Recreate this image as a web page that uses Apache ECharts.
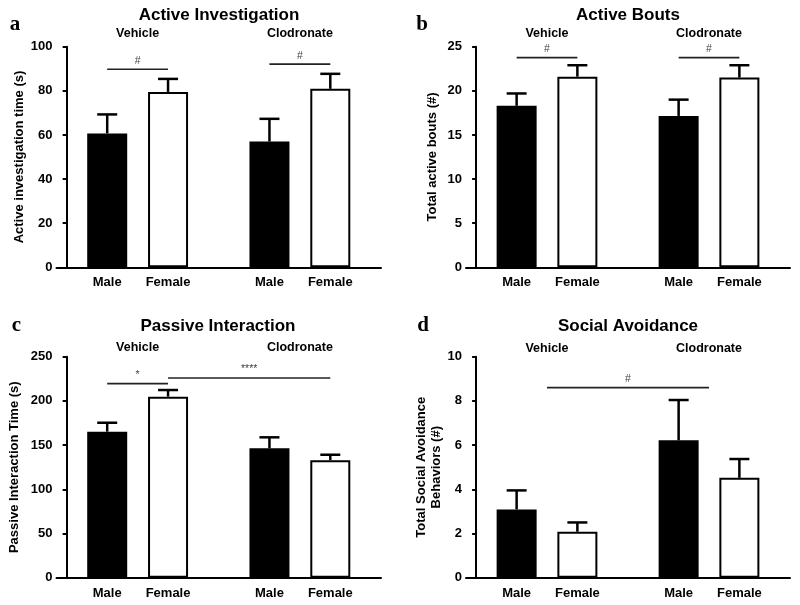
<!DOCTYPE html>
<html><head><meta charset="utf-8">
<script src="https://cdn.jsdelivr.net/npm/echarts@6/dist/echarts.min.js"></script>
<style>html,body{margin:0;padding:0;background:#fff}#c{width:800px;height:605px}</style>
</head><body><div id="c"></div>
<script>
// ---- data ----
const groups = ['Vehicle', 'Clodronate'];
const sexLabels = ['Male', 'Female', 'Male', 'Female'];
const panelTitles = ['Active Investigation', 'Active Bouts', 'Passive Interaction', 'Social Avoidance'];
const panelLetters = ['a', 'b', 'c', 'd'];
const yNames = ['Active investigation time (s)', 'Total active bouts (#)', 'Passive Interaction Time (s)', 'Total Social Avoidance\nBehaviors (#)'];
const yMax = [100, 25, 250, 10];
const yStep = [20, 5, 50, 2];

const meanA = [60.7, 79.5, 57.0, 80.9];
const semA  = [8.6, 5.9, 10.3, 6.8];
const meanB = [18.3, 21.6, 17.15, 21.5];
const semB  = [1.4, 1.3, 1.85, 1.4];
const meanC = [165.2, 204.8, 146.4, 132.8];
const semC  = [10.1, 7.5, 12.4, 6.3];
const meanD = [3.09, 2.08, 6.22, 4.52];
const semD  = [0.86, 0.42, 1.82, 0.85];

const sigA = [{from: 0, to: 1, y: 89.8, label: '#'}, {from: 2, to: 3, y: 92.1, label: '#'}];
const sigB = [{from: 0, to: 1, y: 23.76, label: '#'}, {from: 2, to: 3, y: 23.76, label: '#'}];
const sigC = [{from: 0, to: 1, y: 219.5, label: '*'}, {from: 1, to: 3, y: 225.9, label: '****'}];
const sigD = [{from: 'Vehicle', to: 'Clodronate', y: 8.6, label: '#'}];

// ---- layout ----
const means = [meanA, meanB, meanC, meanD];
const sems = [semA, semB, semC, semD];
const sigs = [sigA, sigB, sigC, sigD];
const SLOTS = 16;
const barSlots = [2, 5, 10, 13];
const groupCenters = [3.5, 11.5];
const grids = [
  {left: 56.5, top: 46.7, width: 324.5, height: 220.6},
  {left: 466, top: 46.7, width: 324, height: 220.6},
  {left: 56.5, top: 356.7, width: 324.5, height: 221},
  {left: 466, top: 356.7, width: 324, height: 221}
];
const nameGaps = [27, 26.3, 34.7, 18.7];
const groupLabelOffset = [13.5, 13.5, 9, 8.5];
const titlePos = [[219, 15], [628, 15], [218, 326], [628, 326.5]];
const letterPos = [[15, 24.5], [422, 24.5], [16.5, 326], [423, 326]];
const FONT = 'Arial, "Liberation Sans", Helvetica, sans-serif';
const SERIF = '"Times New Roman", "Liberation Serif", serif';

function pos(k) { return typeof k === 'number' ? barSlots[k] : groupCenters[groups.indexOf(k)]; }

const catLabels = Array.from({length: SLOTS}, () => '');
barSlots.forEach((s, i) => catLabels[s] = sexLabels[i]);

const option = {
  animation: false,
  backgroundColor: '#fff',
  grid: grids.map(g => Object.assign({containLabel: false}, g)),
  xAxis: [], yAxis: [], series: [], graphic: []
};

for (let p = 0; p < 4; p++) {
  option.xAxis.push({
    type: 'category', gridIndex: p, data: catLabels,
    axisLine: {lineStyle: {color: '#000', width: 2}},
    axisTick: {alignWithLabel: true, length: 4, lineStyle: {color: '#000', width: 2},
      interval: (i) => catLabels[i] !== ''},
    axisLabel: {interval: 0, color: '#000', fontWeight: 'bold', fontSize: 13, fontFamily: FONT, margin: 9},
    splitLine: {show: false}
  });
  option.xAxis.push({
    type: 'value', gridIndex: p, min: -0.5, max: SLOTS - 0.5, show: false
  });
  option.yAxis.push({
    type: 'value', gridIndex: p, min: 0, max: yMax[p], interval: yStep[p],
    name: yNames[p], nameLocation: 'middle', nameGap: nameGaps[p], nameRotate: 90,
    nameTextStyle: {color: '#000', fontWeight: 'bold', fontSize: 13, fontFamily: FONT, lineHeight: 15},
    axisLine: {show: true, lineStyle: {color: '#000', width: 2}},
    axisTick: {show: true, length: 4, lineStyle: {color: '#000', width: 2}},
    axisLabel: {color: '#000', fontWeight: 'bold', fontSize: 13, fontFamily: FONT, margin: 4},
    splitLine: {show: false}
  });

  // bars
  option.series.push({
    type: 'bar', xAxisIndex: 2 * p, yAxisIndex: p, barWidth: 40, z: 2,
    data: means[p].map((v, i) => ({
      value: [barSlots[i], v],
      itemStyle: {color: i % 2 === 0 ? '#000' : '#fff', borderColor: '#000', borderWidth: 2}
    }))
  });

  // error bars (upper SEM)
  option.series.push({
    type: 'custom', xAxisIndex: 2 * p + 1, yAxisIndex: p, z: 5,
    data: means[p].map((v, i) => [barSlots[i], v, v + sems[p][i]]),
    renderItem: (params, api) => {
      const a = api.coord([api.value(0), api.value(1)]);
      const b = api.coord([api.value(0), api.value(2)]);
      return {type: 'group', children: [
        {type: 'line', shape: {x1: a[0], y1: a[1], x2: b[0], y2: b[1]}, style: {stroke: '#000', lineWidth: 2.5}},
        {type: 'line', shape: {x1: b[0] - 10, y1: b[1], x2: b[0] + 10, y2: b[1]}, style: {stroke: '#000', lineWidth: 2.5}}
      ]};
    }
  });

  // significance lines
  const sg = sigs[p];
  option.series.push({
    type: 'custom', xAxisIndex: 2 * p + 1, yAxisIndex: p, z: 6,
    data: sg.map(s => [pos(s.from), pos(s.to), s.y]),
    renderItem: (params, api) => {
      const a = api.coord([api.value(0), api.value(2)]);
      const b = api.coord([api.value(1), api.value(2)]);
      return {type: 'group', children: [
        {type: 'line', shape: {x1: a[0], y1: a[1], x2: b[0], y2: b[1]}, style: {stroke: '#222', lineWidth: 1.6}},
        {type: 'text', x: (a[0] + b[0]) / 2, y: a[1] - 3,
          style: {text: sg[params.dataIndex].label, fill: '#444', font: '10.5px ' + FONT, textAlign: 'center', textVerticalAlign: 'bottom'}}
      ]};
    }
  });

  // group labels
  option.series.push({
    type: 'custom', xAxisIndex: 2 * p + 1, yAxisIndex: p, z: 6,
    data: groups.map((g, i) => [groupCenters[i], yMax[p]]),
    renderItem: (params, api) => {
      const a = api.coord([api.value(0), api.value(1)]);
      return {type: 'text', x: a[0], y: a[1] - groupLabelOffset[p],
        style: {text: groups[params.dataIndex], fill: '#000', font: 'bold 12.5px ' + FONT, textAlign: 'center', textVerticalAlign: 'middle'}};
    }
  });

  option.graphic.push({type: 'text', x: titlePos[p][0], y: titlePos[p][1],
    style: {text: panelTitles[p], fill: '#000', font: 'bold 17px ' + FONT, textAlign: 'center', textVerticalAlign: 'middle'}});
  option.graphic.push({type: 'text', x: letterPos[p][0], y: letterPos[p][1],
    style: {text: panelLetters[p], fill: '#000', font: 'bold 21px ' + SERIF, textAlign: 'center', textVerticalAlign: 'middle'}});
}

const chart = echarts.init(document.getElementById('c'), null, {renderer: 'canvas'});
chart.setOption(option);
</script></body></html>
